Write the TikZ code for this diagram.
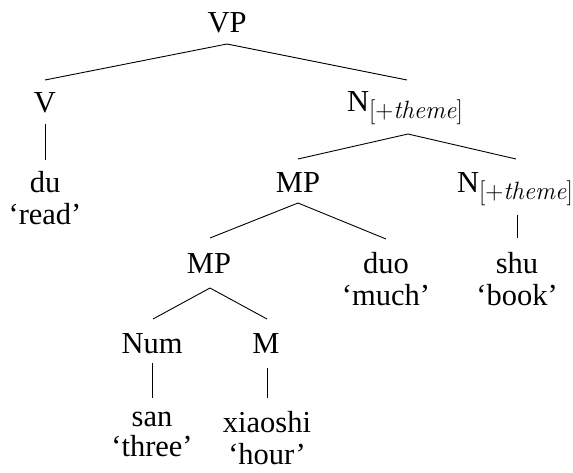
\documentclass[tikz,border=0pt]{standalone}
\usepackage[no-math]{fontspec}
\setmainfont{Liberation Serif}
\newfontfamily\lmrom{Latin Modern Roman}
\newcommand{\featsub}{\raisebox{-6.5pt}{\lmrom\fontsize{25}{26}\selectfont[+\textit{theme}]}}
\usetikzlibrary{calc}
\begin{document}
\begin{tikzpicture}[x=1pt,y=-1pt,
  lbl/.style={anchor=base,inner sep=0pt,font=\fontsize{30.5}{32}\selectfont},
  edge/.style={draw=black,line width=0.9pt}]
\useasboundingbox (0,0) rectangle (573,473);
% nodes
\node[lbl] (VP) at (227,33) {VP};
\node[lbl] (V) at (45,113) {V};
\node[lbl] (N1) at (405,112) {N\featsub};
\node[lbl] (du) at (45,193) {du};
\node[lbl] (duG) at (45,225) {`read'};
\node[lbl] (MP1) at (298,193) {MP};
\node[lbl] (N2) at (515,193) {N\featsub};
\node[lbl] (MP2) at (209,273) {MP};
\node[lbl] (duo) at (386,273) {duo};
\node[lbl] (duoG) at (386,305) {`much'};
\node[lbl] (shu) at (517,273) {shu};
\node[lbl] (shuG) at (517,305) {`book'};
\node[lbl] (Num) at (152,353) {Num};
\node[lbl] (M) at (266,353) {M};
\node[lbl] (san) at (152,426) {san};
\node[lbl] (sanG) at (152,456) {`three'};
\node[lbl] (xs) at (267,432) {xiaoshi};
\node[lbl] (xsG) at (267,464) {`hour'};
% edges
\draw[edge] ($(VP.base)+(0,11)$) -- ($(V.base)+(0,-33)$);
\draw[edge] ($(VP.base)+(0,11)$) -- ($(N1.base)+(2,-32)$);
\draw[edge] ($(V.base)+(0,11)$) -- ($(du.base)+(0,-33)$);
\draw[edge] ($(N1.base)+(3,22)$) -- ($(MP1.base)+(0,-34)$);
\draw[edge] ($(N1.base)+(3,22)$) -- ($(N2.base)+(1,-34)$);
\draw[edge] ($(MP1.base)+(0,10)$) -- ($(MP2.base)+(1,-35)$);
\draw[edge] ($(MP1.base)+(0,10)$) -- ($(duo.base)+(0,-34)$);
\draw[edge] ($(N2.base)+(2,22)$) -- ($(shu.base)+(0,-35)$);
\draw[edge] ($(MP2.base)+(1,15)$) -- ($(Num.base)+(1,-34)$);
\draw[edge] ($(MP2.base)+(1,15)$) -- ($(M.base)+(1,-34)$);
\draw[edge] ($(Num.base)+(0,10)$) -- ($(san.base)+(0,-28)$);
\draw[edge] ($(M.base)+(1,15)$) -- ($(xs.base)+(0,-34)$);
\end{tikzpicture}
\end{document}
